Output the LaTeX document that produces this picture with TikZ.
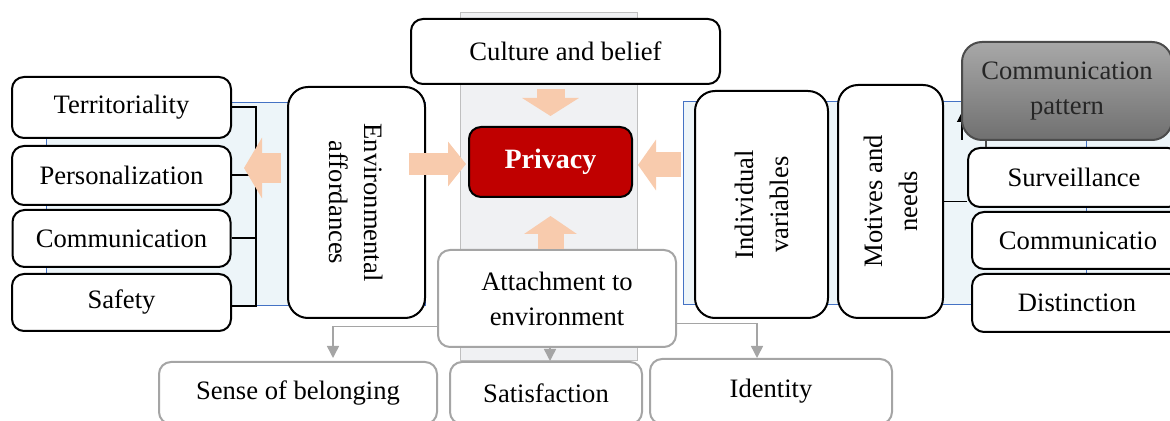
\documentclass[tikz,border=0pt]{standalone}
\usepackage{fontspec}
\setmainfont{Liberation Serif}
\usepackage{tikz}
\usetikzlibrary{arrows.meta}

\definecolor{peachc}{HTML}{F8CBAD}
\definecolor{privred}{HTML}{C00000}
\definecolor{colgray}{HTML}{F0F1F3}
\definecolor{lightblue}{HTML}{EDF5F9}
\definecolor{frameblue}{HTML}{4472C4}
\definecolor{linegray}{HTML}{A5A5A5}
\definecolor{cptop}{HTML}{A8A8A8}
\definecolor{cpbot}{HTML}{707070}

\tikzset{
  box/.style={draw, line width=1pt, rounded corners=6pt, fill=white, align=center,
    font=\fontsize{13.3}{17.5}\selectfont},
  tallbox/.style={box, rounded corners=10pt},
  graybox/.style={box, draw=linegray},
  peach/.style={draw=peachc, line width=13pt, -{Triangle[width=0pt 2, length=9pt]}},
  grayarrow/.style={draw=linegray, line width=0.75pt, -{Triangle[width=6pt, length=6pt]}},
}

\begin{document}
\begin{tikzpicture}[x=0.5pt,y=-0.5pt]
			\path[use as bounding box, clip] (0,0) rectangle (1170,421);
			% background panels
			\filldraw[draw=black!25, fill=colgray] (460,12) rectangle (637,360);
			\filldraw[draw=frameblue, line width=0.4pt, fill=lightblue] (46,102) rectangle (425,305);
			\filldraw[draw=frameblue, line width=0.4pt, fill=lightblue] (683,101) rectangle (1180,304);
			\draw[frameblue, line width=0.4pt] (1086,101) -- (1086,304);
			% centre
			\node[box, minimum width=154.5pt, minimum height=32.5pt] (culture) at (565.5,51.5) {Culture and belief};
			\node[box, fill=privred, text=white, minimum width=81.5pt, minimum height=35pt,
				font=\fontsize{14}{17}\selectfont\bfseries] (privacy) at (550.5,162) {Privacy};
			% left group
			\node[box, minimum width=109.5pt, minimum height=30.5pt] (terr) at (121.5,107.5) {Territoriality};
			\node[box, minimum width=109.5pt, minimum height=29.5pt] (pers) at (121.5,175.5) {Personalization};
			\node[box, minimum width=109pt, minimum height=28.5pt] (comm) at (121.5,238.5) {Communication};
			\node[box, minimum width=109.5pt, minimum height=28.5pt] (safety) at (121.5,302.5) {Safety};
			\coordinate (brk) at (256,0);
			\draw[line width=1pt] (terr.east) -- (terr.east -| brk) -- ([yshift=-2pt]safety.east -| brk) -- ([yshift=-2pt]safety.east);
			\draw[line width=1pt] (pers.east) -- (pers.east -| brk);
			\draw[line width=1pt] (comm.east) -- (comm.east -| brk);
			% rotated: env.south is its left side, env.north its right side
			\node[tallbox, rotate=-90, minimum width=115.5pt, minimum height=68.5pt] (env) at (356.5,202.5) {Environmental\\affordances};
			% right group, rotated: .north is the left side, .south the right side
			\node[tallbox, rotate=90, minimum width=113.5pt, minimum height=66.5pt] (indiv) at (761.5,204.5) {Individual\\variables};
			\node[tallbox, rotate=90, minimum width=116.5pt, minimum height=52.5pt] (motives) at (890.5,201.5) {Motives and\\needs};
			\draw[line width=0.6pt, -{Triangle[width=5pt, length=5pt]}] (962,140) -- (962,112);
			\node[box, draw=black!70, rounded corners=10pt, top color=cptop, bottom color=cpbot, text=black!85,
				minimum width=105pt, minimum height=49pt] (cp) at (1067,91) {Communication\\pattern};
			\node[box, minimum width=106pt, minimum height=29.5pt] (surv) at (1074,177.5) {Surveillance};
			\node[box, minimum width=106pt, minimum height=28.5pt] (commr) at (1078,240.5) {Communicatio};
			\node[box, minimum width=105pt, minimum height=29pt] (dist) at (1077,303) {Distinction};
			\draw[line width=0.8pt] (motives.south) -- (motives.south -| surv.west);
			\draw[line width=0.6pt, black!70] ([xshift=9.5pt]surv.north west) -- ([xshift=9.5pt]surv.north west |- cp.south);
			% bottom group
			\node[graybox, minimum width=119pt, minimum height=48.5pt] (attach) at (557,298.5) {Attachment to\\environment};
			\node[graybox, minimum width=139pt, minimum height=31pt] (sense) at (298,393) {Sense of belonging};
			\node[graybox, minimum width=96pt, minimum height=31pt] (satis) at (546,393) {Satisfaction};
			\node[graybox, minimum width=121pt, minimum height=32.5pt] (identity) at (771,391.5) {Identity};
			\draw[grayarrow, shorten >=1.5pt] ([yshift=-14pt]attach.west) -| ([xshift=17.5pt]sense.north);
			\draw[grayarrow] ([xshift=-3.5pt]attach.south) -- ([xshift=-3.5pt]attach.south |- satis.north);
			\draw[grayarrow] ([yshift=-12.5pt]attach.east) -| ([xshift=-7pt]identity.north);
			% block arrows
			\draw[peach, line width=14pt] ([yshift=-2pt]culture.south -| privacy.north) -- ([yshift=5pt]privacy.north);
			\draw[peach, line width=11pt] ([xshift=-8.5pt,yshift=-1pt]env.north |- privacy.west) -- ([xshift=-1pt,yshift=-1pt]privacy.west);
			\draw[peach, line width=12.5pt] ([xshift=-6.5pt,yshift=-1.5pt]indiv.north |- privacy.east) -- ([xshift=2.5pt,yshift=-1.5pt]privacy.east);
			\draw[peach] (attach.north -| privacy.south) -- ([yshift=-9pt]privacy.south);
			\draw[peach, line width=15pt] ([xshift=-3pt,yshift=3.75pt]env.south |- pers.east) -- ([xshift=6pt,yshift=3.75pt]pers.east);
		\end{tikzpicture}
\end{document}
